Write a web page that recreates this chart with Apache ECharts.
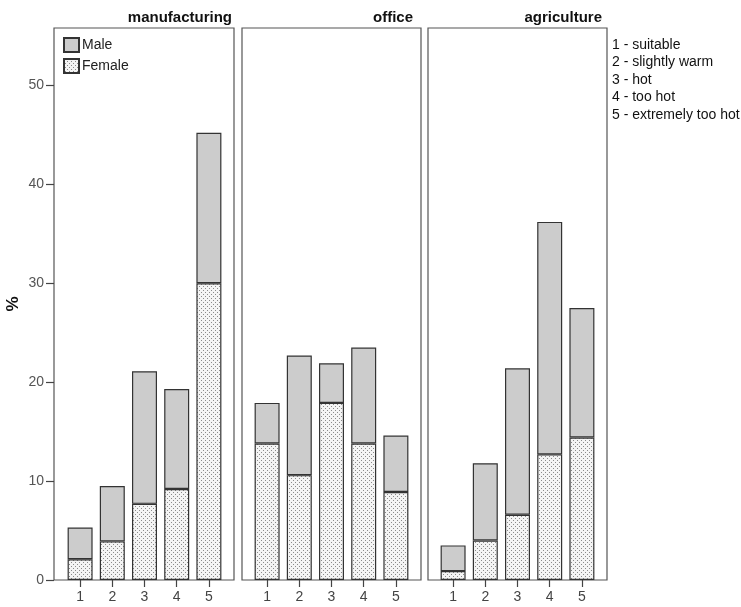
<!DOCTYPE html>
<html>
<head>
<meta charset="utf-8">
<script src="https://cdn.jsdelivr.net/npm/echarts@6/dist/echarts.min.js"></script>
<style>html,body{margin:0;padding:0;background:#fff}#c{width:741px;height:607px}</style>
</head>
<body>
<div id="c"></div>
<script>
const categories = ['1', '2', '3', '4', '5'];
const panelNames = ['manufacturing', 'office', 'agriculture'];
const femaleManufacturing = [2.1, 3.9, 7.7, 9.2, 30.0];
const maleManufacturing = [3.2, 5.6, 13.4, 10.1, 15.2];
const femaleOffice = [13.8, 10.6, 17.9, 13.8, 8.9];
const maleOffice = [4.1, 12.1, 4.0, 9.7, 5.7];
const femaleAgriculture = [0.9, 4.0, 6.6, 12.7, 14.4];
const maleAgriculture = [2.6, 7.8, 14.8, 23.5, 13.1];
const keyLines = ['1 - suitable', '2 - slightly warm', '3 - hot', '4 - too hot', '5 - extremely too hot'];
const yTicks = [0, 10, 20, 30, 40, 50];

const femaleData = [femaleManufacturing, femaleOffice, femaleAgriculture];
const maleData = [maleManufacturing, maleOffice, maleAgriculture];

// dotted pattern
const pc = document.createElement('canvas');
pc.width = 4; pc.height = 4;
const ctx = pc.getContext('2d');
ctx.fillStyle = '#f4f4f4'; ctx.fillRect(0, 0, 4, 4);
ctx.fillStyle = '#8a8a8a';
ctx.fillRect(1, 0, 1, 1);
ctx.fillRect(3, 2, 1, 1);
const dotPattern = { image: pc, repeat: 'repeat' };

const font = 'Liberation Sans, Arial, sans-serif';
const YMAX = 55.8;
// frame panels
const frameDefs = [
  { left: 54, width: 180 },
  { left: 242, width: 179 },
  { left: 428, width: 179 }
];
// inner plotting areas (category bands)
const innerDefs = [
  { left: 64, width: 161 },
  { left: 251, width: 161 },
  { left: 437, width: 161 }
];
const grids = frameDefs.map(g => ({
  left: g.left, width: g.width, top: 28, height: 552,
  show: true, borderColor: '#555', borderWidth: 1.2, backgroundColor: 'transparent'
})).concat(innerDefs.map(g => ({
  left: g.left, width: g.width, top: 28, height: 552, show: false
})));

const axisCol = '#444';
const xAxes = frameDefs.map((g, i) => ({
  type: 'value', gridIndex: i, min: 0, max: 1, show: false
})).concat(innerDefs.map((g, i) => ({
  type: 'category', gridIndex: 3 + i, data: categories, boundaryGap: true,
  axisLine: { show: false },
  axisTick: { show: true, alignWithLabel: true, length: 7, lineStyle: { color: axisCol, width: 1.2 } },
  axisLabel: { show: true, color: '#444', fontSize: 14, fontFamily: font, margin: 10 }
})));

const yAxes = frameDefs.map((g, i) => ({
  type: 'value', gridIndex: i, min: 0, max: YMAX,
  splitLine: { show: false },
  axisLine: { show: false },
  axisTick: { show: i === 0, customValues: yTicks, length: 8, lineStyle: { color: axisCol, width: 1.2 } },
  axisLabel: { show: i === 0, customValues: yTicks, color: '#555', fontSize: 14, fontFamily: font, margin: 10 },
  name: i === 0 ? '%' : '', nameLocation: 'middle', nameGap: 32, nameRotate: 90,
  nameTextStyle: { fontSize: 17, fontWeight: 'bold', color: '#111', fontFamily: font }
})).concat(innerDefs.map((g, i) => ({
  type: 'value', gridIndex: 3 + i, min: 0, max: YMAX, show: false, splitLine: { show: false }
})));

const series = [];
panelNames.forEach((p, i) => {
  series.push({
    name: 'Female', type: 'bar', stack: 'p' + i, xAxisIndex: 3 + i, yAxisIndex: 3 + i, barWidth: 25,
    itemStyle: { color: dotPattern, borderColor: '#333', borderWidth: 1.2 },
    data: femaleData[i]
  });
  series.push({
    name: 'Male', type: 'bar', stack: 'p' + i, xAxisIndex: 3 + i, yAxisIndex: 3 + i, barWidth: 25,
    itemStyle: { color: '#cccccc', borderColor: '#333', borderWidth: 1.2 },
    data: maleData[i]
  });
});

const titles = [
  { text: panelNames[0], right: 741 - 237, top: 5 },
  { text: panelNames[1], right: 741 - 418, top: 5 },
  { text: panelNames[2], right: 741 - 607, top: 5 }
].map(t => Object.assign(t, { textStyle: { fontSize: 15, fontWeight: 'bold', color: '#111', fontFamily: font } }));
titles.push({
  text: keyLines.join('\n'), left: 607, top: 31,
  textStyle: { fontSize: 14, fontWeight: 'normal', color: '#111', fontFamily: font, lineHeight: 17.5 }
});

const chart = echarts.init(document.getElementById('c'), null, { renderer: 'canvas' });
chart.setOption({
  animation: false,
  backgroundColor: '#fff',
  title: titles,
  legend: {
    data: ['Male', 'Female'], orient: 'vertical', left: 58, top: 32,
    itemWidth: 15, itemHeight: 14, itemGap: 5, icon: 'rect',
    textStyle: { fontSize: 14, color: '#222', fontFamily: font, padding: [0, 0, 0, -2] }
  },
  grid: grids,
  xAxis: xAxes,
  yAxis: yAxes,
  series: series
});
</script>
</body>
</html>
